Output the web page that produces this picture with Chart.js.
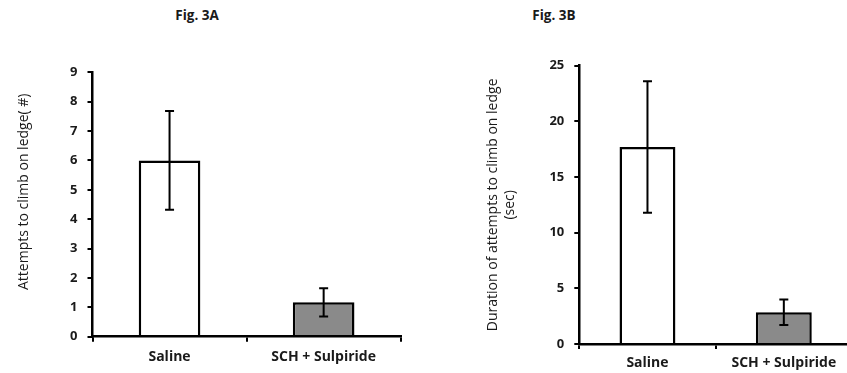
<!DOCTYPE html>
<html><head><meta charset="utf-8">
<script src="https://cdn.jsdelivr.net/npm/chart.js@4/dist/chart.umd.min.js"></script>
<style>
html,body{margin:0;padding:0;background:#fff;overflow:hidden;width:847px;height:373px;position:relative}
#wa{position:absolute;left:0;top:0;width:415px;height:373px;}
#wb{position:absolute;left:460px;top:0;width:395px;height:373px;}
.t{position:absolute;top:6px;font:bold 13.5px "Open Sans";color:#1a1a1a;transform:translateX(-50%);white-space:nowrap}
</style></head>
<body>
<div class="t" style="left:197px">Fig. 3A</div>
<div class="t" style="left:554px">Fig. 3B</div>
<div id="wa"><canvas id="ca"></canvas></div>
<div id="wb"><canvas id="cb"></canvas></div>
<script>
const categories = ['Saline', 'SCH + Sulpiride'];
const attemptsMean = [6.0, 1.17];
const attemptsErr = [1.68, 0.48];
const durationMean = [17.7, 2.85];
const durationErr = [5.9, 1.15];
const attemptsMax = 9, attemptsStep = 1;
const durationMax = 25, durationStep = 5;
const attemptsTitle = '       Attempts to climb on ledge( #)';
const durationTitle = ['Duration of attempts to climb on ledge', '(sec)'];
const barColors = ['#ffffff', '#8a8a8a'];

const errorBars = {
  id: 'errorBars',
  afterDatasetsDraw(chart) {
    const ys = chart.scales.y;
    const ctx = chart.ctx;
    chart.data.datasets.forEach((ds, di) => {
      const meta = chart.getDatasetMeta(di);
      meta.data.forEach((el, i) => {
        const m = ds.data[i], e = ds.errors[i];
        const yt = ys.getPixelForValue(m + e), yb = ys.getPixelForValue(m - e);
        const x = el.x;
        ctx.save();
        ctx.strokeStyle = '#000';
        ctx.lineWidth = 2;
        ctx.beginPath();
        ctx.moveTo(x, yt); ctx.lineTo(x, yb);
        ctx.moveTo(x - 4.5, yt); ctx.lineTo(x + 4.5, yt);
        ctx.moveTo(x - 4.5, yb); ctx.lineTo(x + 4.5, yb);
        ctx.stroke();
        ctx.restore();
      });
    });
  }
};

function makeChart(id, vals, errs, max, step, title, yW, xH, pad, barPct, titlePad, xPad) {
  return new Chart(document.getElementById(id), {
    type: 'bar',
    data: {
      labels: categories,
      datasets: [{
        data: vals,
        errors: errs,
        backgroundColor: barColors,
        borderColor: '#000',
        borderWidth: 2.5,
        borderSkipped: 'bottom',
        barPercentage: barPct,
        categoryPercentage: 1
      }]
    },
    options: {
      responsive: true,
      maintainAspectRatio: false,
      animation: false,
      layout: { padding: pad },
      plugins: { legend: { display: false }, tooltip: { enabled: false }, title: { display: false } },
      scales: {
        x: {
          afterFit(s) { s.height = xH; },
          border: { display: true, color: '#000', width: 2.5, z: 1 },
          grid: { display: true, drawOnChartArea: false, drawTicks: true, tickLength: 5, color: '#000', lineWidth: 2, offset: true },
          ticks: { color: '#1a1a1a', font: { family: 'Open Sans', weight: 'bold', size: 14 }, padding: xPad, maxRotation: 0 }
        },
        y: {
          min: 0, max: max,
          afterFit(s) { s.width = yW; },
          border: { display: true, color: '#000', width: 2.5 },
          grid: { display: true, drawOnChartArea: false, drawTicks: true, tickLength: 5, color: '#000', lineWidth: 2 },
          ticks: { stepSize: step, color: '#1a1a1a', font: { family: 'Open Sans', weight: 'bold', size: 13 }, padding: 10 },
          title: { display: true, text: title, color: '#1a1a1a', font: { family: 'Open Sans', size: 14 }, padding: titlePad }
        }
      }
    },
    plugins: [errorBars]
  });
}

makeChart('ca', attemptsMean, attemptsErr, attemptsMax, attemptsStep, attemptsTitle,
  92.5, 36.3, { top: 72.3, right: 14.3, left: 0, bottom: 0 }, 0.4, { top: 16, bottom: 0 }, 7);
makeChart('cb', durationMean, durationErr, durationMax, durationStep, durationTitle,
  119.3, 29, { top: 65.7, right: 3, left: 0, bottom: 0 }, 0.41, { top: 25, bottom: 0 }, 6);
</script>
</body></html>
